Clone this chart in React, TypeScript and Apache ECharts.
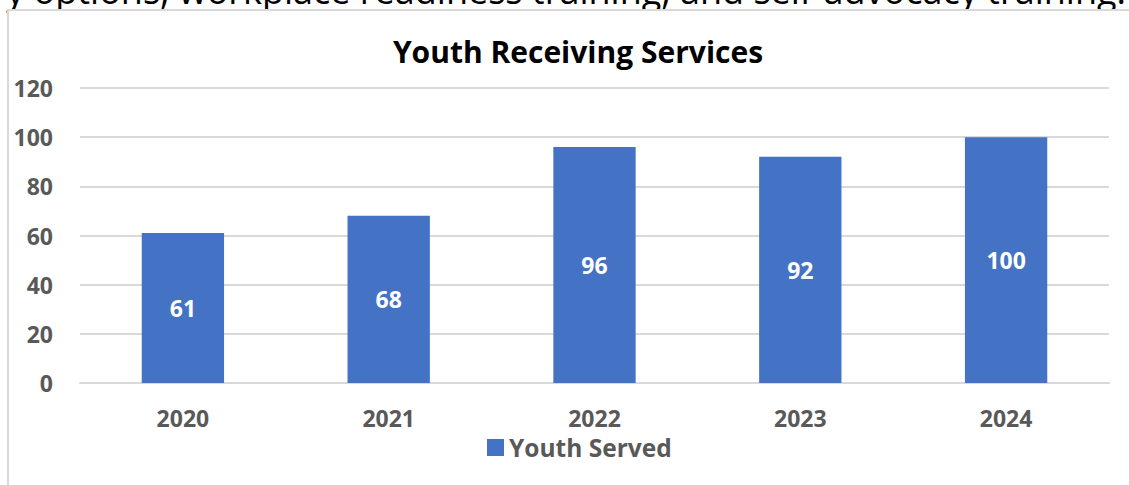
import React, { useEffect, useRef } from "react";
import * as echarts from "echarts";

const categories = ["2020", "2021", "2022", "2023", "2024"];
const youthServed = [61, 68, 96, 92, 100];
const seriesName = "Youth Served";
const chartTitle = "Youth Receiving Services";
const topText = "y options, workplace readiness training, and self-advocacy training.";

export default function App() {
  const ref = useRef<HTMLDivElement>(null);
  useEffect(() => {
    if (!ref.current) return;
    const chart = echarts.init(ref.current, undefined, { renderer: "svg" });
    const font = "Open Sans";
    chart.setOption({
      animation: false,
      backgroundColor: "#ffffff",
      title: {
        text: chartTitle,
        left: 573,
        textAlign: "center",
        top: 31,
        textStyle: { fontFamily: font, fontWeight: "bold", fontSize: 30, color: "#000000" },
      },
      legend: {
        data: [seriesName],
        left: 482,
        top: 430,
        icon: "rect",
        itemWidth: 17,
        itemHeight: 17,
        itemGap: 6,
        textStyle: { fontFamily: font, fontWeight: "bold", fontSize: 24.5, color: "#595959" },
      },
      grid: { left: 80, right: 20, top: 88, bottom: 102, containLabel: false },
      xAxis: {
        type: "category",
        data: categories,
        axisTick: { show: false },
        axisLine: { lineStyle: { color: "#d9d9d9", width: 2 } },
        axisLabel: { margin: 23, fontFamily: font, fontWeight: "bold", fontSize: 23, color: "#595959" },
      },
      yAxis: {
        type: "value",
        min: 0,
        max: 120,
        interval: 20,
        axisLine: { show: false },
        axisTick: { show: false },
        splitLine: { lineStyle: { color: "#d9d9d9", width: 2 } },
        axisLabel: { margin: 27, fontFamily: font, fontWeight: "bold", fontSize: 23, color: "#595959" },
      },
      series: [
        {
          name: seriesName,
          type: "bar",
          data: youthServed,
          barWidth: "40%",
          itemStyle: { color: "#4472C4" },
          label: {
            show: true,
            position: "inside",
            fontFamily: font,
            fontWeight: "bold",
            fontSize: 23,
            color: "#ffffff",
          },
        },
      ],
      graphic: [
        {
          type: "text",
          z: -2,
          x: 1126,
          y: 8,
          style: {
            text: topText,
            fontFamily: "Open Sans",
            fontSize: 36,
            fill: "#000000",
            textAlign: "right",
            textVerticalAlign: "bottom",
          },
        },
        {
          type: "rect",
          z: -1,
          shape: { x: 8, y: 10, width: 1130, height: 490 },
          style: { fill: "#ffffff", stroke: "#d9d9d9", lineWidth: 2 },
        },
      ],
    });
    return () => chart.dispose();
  }, []);
  return (
    <div
      ref={ref}
      style={{ position: "fixed", left: 0, top: 0, width: 1129, height: 485 }}
    />
  );
}
